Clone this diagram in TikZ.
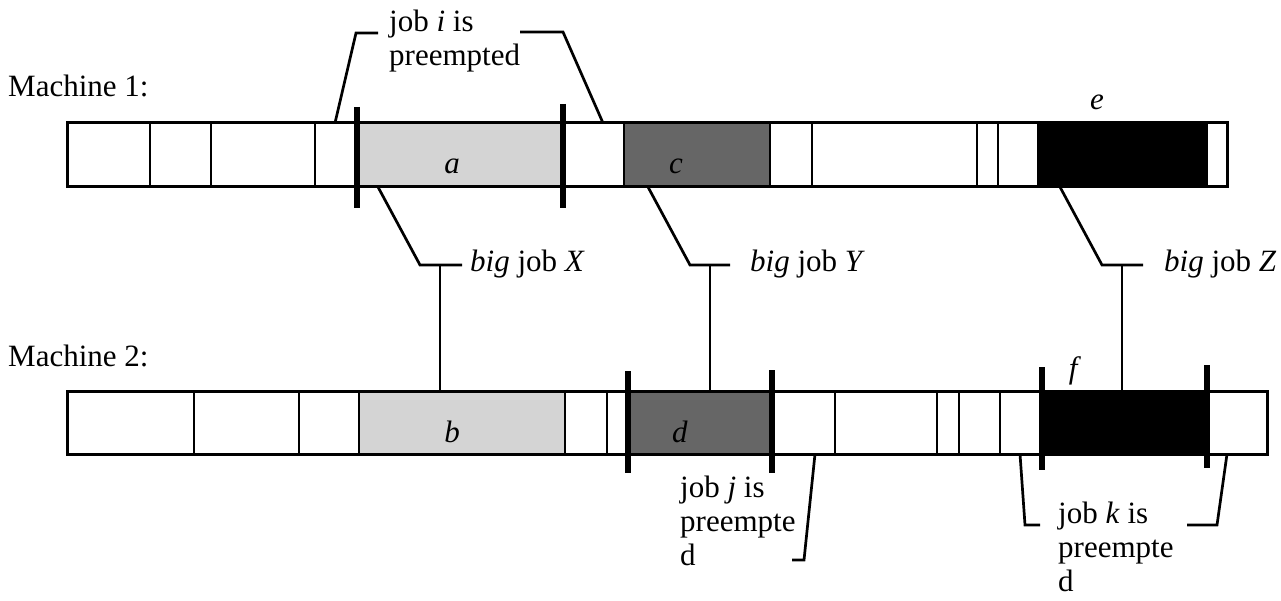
\documentclass[tikz,border=0pt]{standalone}
\usepackage{fontspec}
\setmainfont{Liberation Serif}
\begin{document}
\begin{tikzpicture}[x=1pt,y=-1pt,
  barline/.style={draw=black,line width=3pt},
  divider/.style={draw=black,line width=2.7pt},
  tickmark/.style={draw=black,line width=6.5pt},
  leader/.style={draw=black,line width=2.7pt},
  lbl/.style={inner sep=0pt,font=\fontsize{31}{34}\selectfont},
  jobtxt/.style={inner sep=0pt,font=\fontsize{31}{34}\selectfont,align=left,anchor=north west},
  lightshade/.style={fill=black!17},
  darkshade/.style={fill=black!60}]
\useasboundingbox (0,0) rectangle (1281,601);
\fill[white] (0,0) rectangle (1281,601);
% ---------------- Machine 1 ----------------
\node[lbl,anchor=base west] (m1) at (8,97) {Machine 1:};
\fill[lightshade] (357,123) rectangle (563,187);
\fill[darkshade] (624,123) rectangle (770,187);
\fill[black] (1038,123) rectangle (1207,187);
\draw[barline] (67,123) rectangle (1227,187);
\foreach \x in {150,211,315,624,770,812,977,998,1038,1207}
  \draw[divider] (\x,123) -- (\x,187);
\draw[tickmark] (357,107) -- (357,208);
\draw[tickmark] (563,104) -- (563,208);
\node[lbl,anchor=base] (a) at (452,174) {\textit{a}};
\node[lbl,anchor=base] (c) at (676,174) {\textit{c}};
\node[lbl,anchor=base] (e) at (1097,110) {\textit{e}};
% ---------------- Machine 2 ----------------
\node[lbl,anchor=base west] (m2) at (8,366) {Machine 2:};
\fill[lightshade] (359,391) rectangle (565,454);
\fill[darkshade] (628,391) rectangle (772,454);
\fill[black] (1042,391) rectangle (1207,454);
\draw[barline] (67,391) rectangle (1267,454);
\foreach \x in {194,299,359,565,607,835,937,959,1000}
  \draw[divider] (\x,391) -- (\x,454);
\draw[tickmark] (628,371) -- (628,473);
\draw[tickmark] (772,370) -- (772,473);
\draw[tickmark] (1042,367) -- (1042,470);
\draw[tickmark] (1207,365) -- (1207,468);
\node[lbl,anchor=base] (b) at (452,442) {\textit{b}};
\node[lbl,anchor=base] (d) at (680,442) {\textit{d}};
\node[lbl,anchor=base] (f) at (1075,378) {\textit{f}};
% ---------------- labels ----------------
\node[jobtxt] (ji) at (389,10) {job \textit{i} is\\preempted};
\node[lbl,anchor=base west] (bx) at (470,272) {\textit{big} job \textit{X}};
\node[lbl,anchor=base west] (by) at (750,272) {\textit{big} job \textit{Y}};
\node[lbl,anchor=base west] (bz) at (1164,272) {\textit{big} job \textit{Z}};
\node[jobtxt] (jj) at (680,476) {job \textit{j} is\\preempte\\d};
\node[jobtxt] (jk) at (1058,502) {job \textit{k} is\\preempte\\d};
% ---------------- leader points ----------------
\coordinate (i1) at (335,123); \coordinate (i1k) at (356,33); \coordinate (i1e) at (378,33);
\coordinate (i2) at (603,123); \coordinate (i2k) at (563,32); \coordinate (i2e) at (520,32);
\coordinate (x1) at (378,187); \coordinate (xk) at (420,265); \coordinate (xe) at (462,265);
\coordinate (xt) at (440,265); \coordinate (xb) at (440,391);
\coordinate (y1) at (648,187); \coordinate (yk) at (690,265); \coordinate (ye) at (730,265);
\coordinate (yt) at (710,265); \coordinate (yb) at (710,391);
\coordinate (z1) at (1060,187); \coordinate (zk) at (1102,265); \coordinate (ze) at (1143,265);
\coordinate (zt) at (1122,265); \coordinate (zb) at (1122,391);
\coordinate (j1) at (815,454); \coordinate (jk1) at (804,560); \coordinate (je) at (792,560);
\coordinate (k1) at (1020,454); \coordinate (kk1) at (1025,525); \coordinate (ke1) at (1040,525);
\coordinate (k2) at (1227,454); \coordinate (kk2) at (1217,525); \coordinate (ke2) at (1187,525);
\draw[leader] (i1) -- (i1k) -- (i1e);
\draw[leader] (i2) -- (i2k) -- (i2e);
\draw[leader] (x1) -- (xk) -- (xe);
\draw[leader] (xt) -- (xb);
\draw[leader] (y1) -- (yk) -- (ye);
\draw[leader] (yt) -- (yb);
\draw[leader] (z1) -- (zk) -- (ze);
\draw[leader] (zt) -- (zb);
\draw[leader] (j1) -- (jk1) -- (je);
\draw[leader] (k1) -- (kk1) -- (ke1);
\draw[leader] (k2) -- (kk2) -- (ke2);
\end{tikzpicture}
\end{document}
